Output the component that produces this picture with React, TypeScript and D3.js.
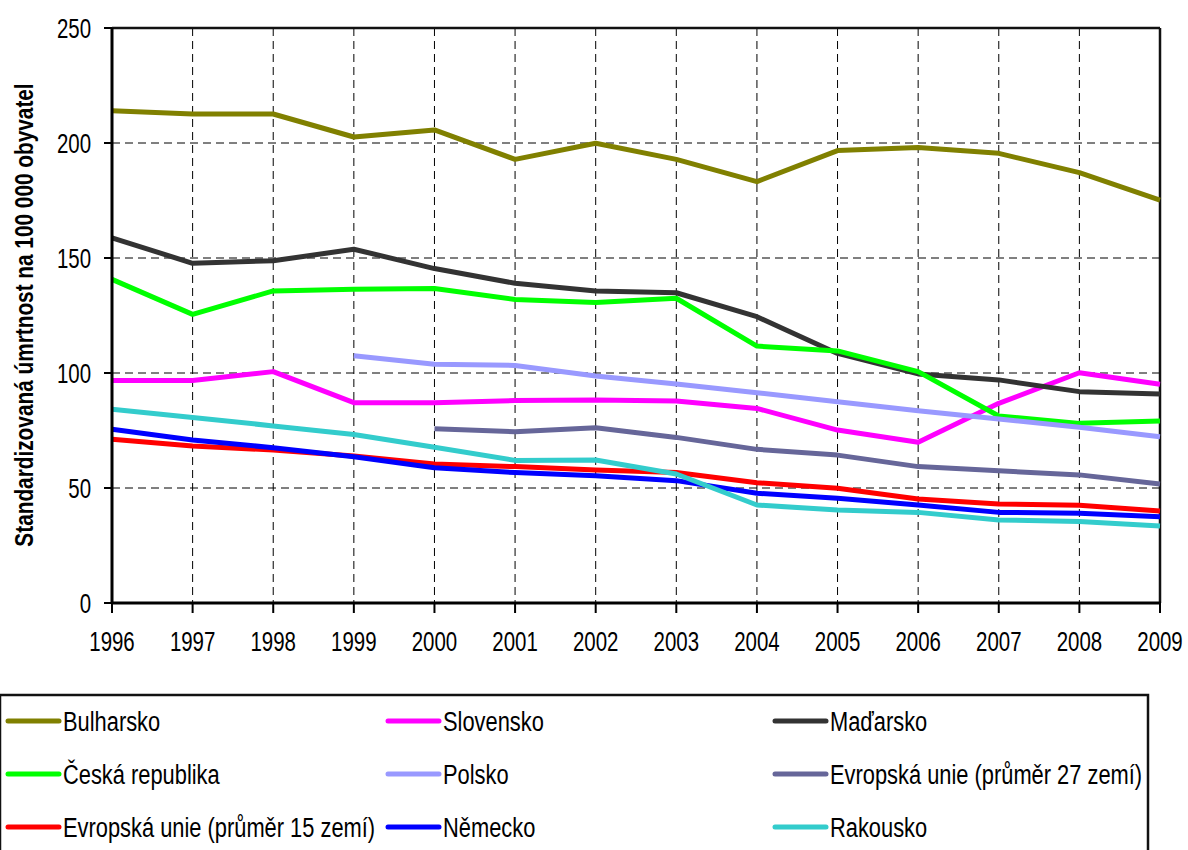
import React, { useEffect, useRef } from "react";
import * as d3 from "d3";

const years = [1996, 1997, 1998, 1999, 2000, 2001, 2002, 2003, 2004, 2005, 2006, 2007, 2008, 2009];
const yTicks = [0, 50, 100, 150, 200, 250];

const bulharsko = [214, 212.6, 212.6, 202.6, 205.7, 192.9, 199.9, 192.9, 183.2, 196.7, 198, 195.5, 187.1, 175.2];
const slovensko = [96.7, 96.7, 100.6, 87.1, 87.1, 88, 88.3, 87.8, 84.6, 75.2, 69.9, 86.8, 100.1, 95.1];
const madarsko = [158.8, 147.7, 148.8, 153.8, 145.4, 139, 135.7, 134.9, 124.5, 108.5, 99.6, 97, 91.9, 90.9];
const ceskaRepublika = [140.7, 125.5, 135.7, 136.4, 136.7, 132, 130.7, 132.5, 111.7, 109.6, 100.6, 81.3, 78.1, 79.1];
const polsko = [null, null, null, 107.5, 103.8, 103.3, 98.7, 95.2, 91.4, 87.5, 83.6, 80, 76.4, 72.3];
const eu27 = [null, null, null, null, 75.8, 74.5, 76.2, 72, 66.8, 64.3, 59.3, 57.5, 55.7, 51.7];
const eu15 = [71.2, 68.3, 66.5, 63.9, 60.4, 59.3, 57.8, 56.7, 52.3, 49.9, 45.2, 43, 42.5, 40];
const nemecko = [75.5, 70.9, 67.5, 63.6, 58.8, 56.7, 55.3, 53.2, 47.7, 45.5, 42.6, 39.4, 39, 37.5];
const rakousko = [84.2, 80.7, 77, 73.3, 67.7, 62, 62.2, 56.1, 42.6, 40.4, 39.4, 36.1, 35.4, 33.5];

const seriesNames = [
  "Bulharsko", "Slovensko", "Maďarsko",
  "Česká republika", "Polsko", "Evropská unie (průměr 27 zemí)",
  "Evropská unie (průměr 15 zemí)", "Německo", "Rakousko",
];
const seriesColors = [
  "#808000", "#FF00FF", "#333333",
  "#00FF00", "#9999FF", "#666699",
  "#FF0000", "#0000FF", "#33CCCC",
];
const seriesValues = [bulharsko, slovensko, madarsko, ceskaRepublika, polsko, eu27, eu15, nemecko, rakousko];

const yTitle = "Standardizovaná úmrtnost na 100 000 obyvatel";

const W = 1188;
const H = 850;
const FONT = "'Liberation Sans', Arial, sans-serif";

export default function App() {
  const ref = useRef<SVGSVGElement | null>(null);

  useEffect(() => {
    document.body.style.margin = "0";
    const svg = d3.select(ref.current);
    svg.selectAll("*").remove();

    const left = 112, right = 1160, top = 28, bottom = 603;
    const x = d3.scaleLinear().domain([years[0], years[years.length - 1]]).range([left, right]);
    const y = d3.scaleLinear().domain([0, 250]).range([bottom, top]);

    const g = svg.append("g");

    const narrowText = (tx: number, ty: number, str: string, size: number, anchor: string, sx: number, rot = 0, weight = "normal") => {
      g.append("text")
        .attr("transform", `translate(${tx},${ty}) rotate(${rot}) scale(${sx},1)`)
        .attr("text-anchor", anchor)
        .attr("font-family", FONT)
        .attr("font-size", size)
        .attr("font-weight", weight)
        .attr("fill", "#000")
        .text(str);
    };

    // grid
    years.slice(1, -1).forEach((yr) => {
      g.append("line").attr("x1", x(yr)).attr("x2", x(yr)).attr("y1", top).attr("y2", bottom)
        .attr("stroke", "#000").attr("stroke-width", 1).attr("stroke-dasharray", "8,5");
    });
    yTicks.slice(1, -1).forEach((t) => {
      g.append("line").attr("x1", left).attr("x2", right).attr("y1", y(t)).attr("y2", y(t))
        .attr("stroke", "#000").attr("stroke-width", 1).attr("stroke-dasharray", "8,5");
    });

    // frame top/right
    g.append("line").attr("x1", left).attr("x2", right).attr("y1", top).attr("y2", top)
      .attr("stroke", "#111").attr("stroke-width", 2.5);
    g.append("line").attr("x1", right).attr("x2", right).attr("y1", top).attr("y2", bottom)
      .attr("stroke", "#111").attr("stroke-width", 2.5);

    // lines
    const line = d3.line<number | null>()
      .defined((d) => d !== null)
      .x((_, i) => x(years[i]))
      .y((d) => y(d as number));
    seriesValues.forEach((vals, i) => {
      g.append("path").attr("d", line(vals as (number | null)[]) || "")
        .attr("fill", "none").attr("stroke", seriesColors[i]).attr("stroke-width", 5)
        .attr("stroke-linejoin", "round");
    });

    // axes
    g.append("line").attr("x1", left).attr("x2", left).attr("y1", top).attr("y2", bottom + 1)
      .attr("stroke", "#000").attr("stroke-width", 3);
    g.append("line").attr("x1", left - 1).attr("x2", right + 1).attr("y1", bottom).attr("y2", bottom)
      .attr("stroke", "#000").attr("stroke-width", 3);

    years.forEach((yr) => {
      g.append("line").attr("x1", x(yr)).attr("x2", x(yr)).attr("y1", bottom).attr("y2", bottom + 10)
        .attr("stroke", "#000").attr("stroke-width", 2);
      narrowText(x(yr), 651, String(yr), 28, "middle", 0.73);
    });
    yTicks.forEach((t) => {
      g.append("line").attr("x1", left - 8).attr("x2", left).attr("y1", y(t)).attr("y2", y(t))
        .attr("stroke", "#000").attr("stroke-width", 2);
      narrowText(91, y(t) + 10, String(t), 28, "end", 0.73);
    });

    narrowText(33, 315, yTitle, 26, "middle", 0.8, -90, "bold");

    // legend
    g.append("rect").attr("x", 0).attr("y", 695).attr("width", 1148).attr("height", 180)
      .attr("fill", "#fff").attr("stroke", "#111").attr("stroke-width", 2.5);
    const colX = [8, 388, 775];
    const rowY = [721, 774, 827];
    seriesNames.forEach((name, i) => {
      const cx = colX[i % 3];
      const cy = rowY[Math.floor(i / 3)];
      g.append("line").attr("x1", cx).attr("x2", cx + 51).attr("y1", cy).attr("y2", cy)
        .attr("stroke", seriesColors[i]).attr("stroke-width", 5).attr("stroke-linecap", "round");
      narrowText(cx + 55, cy + 10, name, 27, "start", 0.81);
    });
  }, []);

  return <svg ref={ref} width={W} height={H} style={{ display: "block", background: "#fff" }} />;
}
